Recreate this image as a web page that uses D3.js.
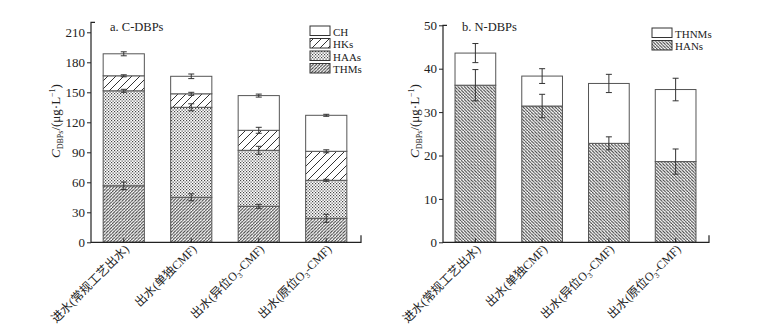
<!DOCTYPE html>
<html>
<head>
<meta charset="utf-8">
<script src="https://cdn.jsdelivr.net/npm/d3@7"></script>
<style>
  body { margin: 0; background: #fff; }
  svg { display: block; }
  text { font-family: "Liberation Serif", "Noto Sans CJK SC", serif; fill: #222; }
</style>
</head>
<body>
<div id="root"></div>
<script>
// категории (ось X)
const categories = ['进水(常规工艺出水)', '出水(单独CMF)', '出水(异位O3-CMF)', '出水(原位O3-CMF)'];

// a. C-DBPs
const cSeries = ['THMs', 'HAAs', 'HKs', 'CH'];
const thms = [56.5, 45, 36, 24];
const thmsErr = [3.8, 3.5, 2, 4];
const haas = [95, 90, 56, 38];
const haasErr = [1.5, 3.5, 4, 1];
const hks = [15, 13.5, 20, 29];
const hksErr = [1, 1.5, 3, 1.5];
const ch = [22, 17.5, 34.7, 36];
const chErr = [2, 2.3, 1.5, 1];
const cTicks = [0, 30, 60, 90, 120, 150, 180, 210];

// b. N-DBPs
const nSeries = ['HANs', 'THNMs'];
const hans = [36.2, 31.4, 22.8, 18.6];
const hansErr = [3.6, 2.7, 1.5, 2.9];
const thnms = [7.4, 6.9, 13.8, 16.6];
const thnmsErr = [2.2, 1.7, 2.1, 2.6];
const nTicks = [0, 10, 20, 30, 40, 50];

const W = 774, H = 329;
const svg = d3.select('#root').append('svg')
  .attr('width', W).attr('height', H)
  .attr('xmlns', 'http://www.w3.org/2000/svg');

// штриховки
const defs = svg.append('defs');
function hatch(id, size, dir, color, sw) {
  const p = defs.append('pattern').attr('id', id)
    .attr('patternUnits', 'userSpaceOnUse')
    .attr('width', size).attr('height', size);
  p.append('rect').attr('width', size).attr('height', size).attr('fill', '#fff');
  const d = dir > 0
    ? `M0,${size} L${size},0 M${-size},${size} L0,0 M${size},${2 * size} L${2 * size},${size}`
    : `M0,0 L${size},${size} M${-size},0 L0,${size} M${size},${-size} L${2 * size},0`;
  p.append('path').attr('d', d).attr('stroke', color).attr('stroke-width', sw);
}
hatch('pTHMs', 3.2, 1, '#3a3a3a', 1);
hatch('pHKs', 8, 1, '#333', 1);
hatch('pHANs', 3.2, -1, '#3a3a3a', 1);
{
  const p = defs.append('pattern').attr('id', 'pHAAs')
    .attr('patternUnits', 'userSpaceOnUse').attr('width', 3).attr('height', 3);
  p.append('rect').attr('width', 3).attr('height', 3).attr('fill', '#fff');
  p.append('rect').attr('x', 0).attr('y', 0).attr('width', 1.2).attr('height', 1.2).attr('fill', '#444');
  p.append('rect').attr('x', 1.5).attr('y', 1.5).attr('width', 1.2).attr('height', 1.2).attr('fill', '#444');
}

const fills = { THMs: 'url(#pTHMs)', HAAs: 'url(#pHAAs)', HKs: 'url(#pHKs)', CH: '#fff', HANs: 'url(#pHANs)', THNMs: '#fff' };

function drawPanel(cfg) {
  const g = svg.append('g');
  const y = d3.scaleLinear().domain(cfg.yDomain).range([242.3, cfg.yTop]);
  const x = d3.scaleBand().domain(categories).range(cfg.xRange).paddingInner(0).paddingOuter(0);
  const bw = x.bandwidth() * 0.61;

  // столбцы
  cfg.series.forEach((name, si) => {
    const vals = cfg.values[si];
    categories.forEach((c, i) => {
      let base = 0;
      for (let k = 0; k < si; k++) base += cfg.values[k][i];
      const top = base + vals[i];
      const cx = x(c) + x.bandwidth() / 2;
      g.append('rect')
        .attr('x', cx - bw / 2).attr('y', y(top))
        .attr('width', bw).attr('height', y(base) - y(top))
        .attr('fill', fills[name])
        .attr('stroke', '#555').attr('stroke-width', 1);
    });
  });
  // планки погрешностей
  cfg.series.forEach((name, si) => {
    categories.forEach((c, i) => {
      let top = 0;
      for (let k = 0; k <= si; k++) top += cfg.values[k][i];
      const e = cfg.errors[si][i];
      const cx = x(c) + x.bandwidth() / 2;
      const y1 = y(top + e), y2 = y(top - e);
      g.append('path')
        .attr('d', `M${cx},${y1}V${y2}M${cx - 3},${y1}H${cx + 3}M${cx - 3},${y2}H${cx + 3}`)
        .attr('stroke', '#333').attr('stroke-width', 1).attr('fill', 'none');
    });
  });

  // ось Y
  const gy = g.append('g').attr('transform', `translate(${cfg.yAxisX},0)`)
    .call(d3.axisLeft(y).tickValues(cfg.ticks).tickSize(4).tickSizeOuter(0).tickPadding(2));
  gy.select('.domain').remove();
  gy.selectAll('text').style('font-size', '13px').style('font-family', '"Liberation Serif", serif').attr('fill', '#222');
  gy.selectAll('line').attr('stroke', '#222');
  g.append('path')
    .attr('d', `M${cfg.yAxisX + 4},${cfg.yTop}H${cfg.yAxisX}V${242.3}H${cfg.xEnd}V${242.3 - 7}`)
    .attr('stroke', '#222').attr('stroke-width', 1.2).attr('fill', 'none');

  // ось X
  const gx = g.append('g').attr('transform', 'translate(0,242.3)')
    .call(d3.axisBottom(x).tickSize(-4).tickSizeOuter(0).tickFormat(''));
  gx.select('.domain').remove();
  gx.selectAll('line').attr('stroke', '#222');

  categories.forEach(c => {
    const cx = x(c) + x.bandwidth() / 2;
    const t = g.append('text')
      .attr('transform', `translate(${cx + 6},${250}) rotate(-45)`)
      .attr('text-anchor', 'end')
      .style('font-size', '12px')
      .style('font-family', '"Liberation Serif", "Noto Sans CJK SC", serif');
    const parts = c.split('O3');
    if (parts.length === 2) {
      t.append('tspan').text(parts[0] + 'O');
      t.append('tspan').attr('dy', 3).style('font-size', '8px').text('3');
      t.append('tspan').attr('dy', -3).text(parts[1]);
    } else {
      t.text(c);
    }
  });

  // подпись оси Y
  const yl = g.append('text')
    .attr('transform', `translate(${cfg.yLabelX},121) rotate(-90)`)
    .attr('text-anchor', 'middle')
    .style('font-size', '13px');
  yl.append('tspan').style('font-style', 'italic').text('C');
  yl.append('tspan').attr('dy', 3).style('font-size', '8px').text('DBPs');
  yl.append('tspan').attr('dy', -3).text('/(μg·L');
  yl.append('tspan').attr('dy', -5).style('font-size', '8px').text('−1');
  yl.append('tspan').attr('dy', 5).text(')');

  // заголовок
  g.append('text').attr('x', cfg.titleX).attr('y', 31)
    .style('font-size', '12.5px').text(cfg.title);

  // легенда (сверху вниз — в обратном порядке)
  const leg = cfg.series.slice().reverse();
  leg.forEach((name, i) => {
    const ly = cfg.legY + i * cfg.legStep;
    g.append('rect').attr('x', cfg.legX).attr('y', ly)
      .attr('width', 20).attr('height', 9.5)
      .attr('fill', fills[name]).attr('stroke', '#333').attr('stroke-width', 1);
    g.append('text').attr('x', cfg.legX + 23).attr('y', ly + 9.5)
      .style('font-size', '11px').text(name);
  });
}

drawPanel({
  series: cSeries,
  values: [thms, haas, hks, ch],
  errors: [thmsErr, haasErr, hksErr, chErr],
  yDomain: [0, 220], yTop: 22.3, ticks: cTicks,
  xRange: [90, 360], yAxisX: 91, xEnd: 361,
  yLabelX: 60, title: 'a. C-DBPs', titleX: 110,
  legX: 310, legY: 26, legStep: 12.5
});

drawPanel({
  series: nSeries,
  values: [hans, thnms],
  errors: [hansErr, thnmsErr],
  yDomain: [0, 50], yTop: 25.3, ticks: nTicks,
  xRange: [442, 709], yAxisX: 443, xEnd: 709,
  yLabelX: 419, title: 'b. N-DBPs', titleX: 462,
  legX: 652, legY: 28, legStep: 12.5
});
</script>
</body>
</html>
